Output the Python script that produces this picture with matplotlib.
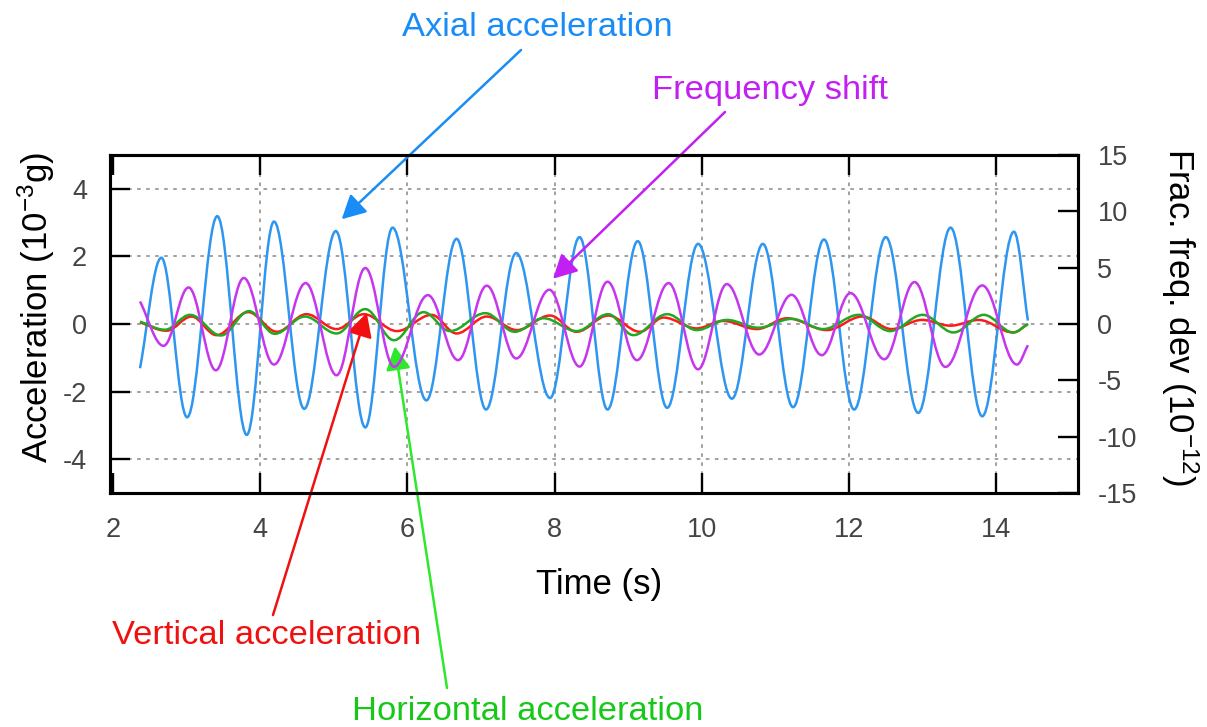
import matplotlib
matplotlib.use("Agg")
import matplotlib.pyplot as plt
from matplotlib.path import Path
from matplotlib.patches import PathPatch

# Extremum samples (time in s) of each recorded trace
axial_t = [2.37, 2.66, 3.01, 3.42, 3.82, 4.19, 4.60, 5.03, 5.43, 5.80, 6.26, 6.67, 7.07, 7.48,
           7.94, 8.34, 8.72, 9.13, 9.53, 9.95, 10.41, 10.83, 11.24, 11.66, 12.07, 12.50, 12.94,
           13.38, 13.81, 14.24, 14.43]
axial_v = [-1.31, 1.96, -2.76, 3.19, -3.28, 3.03, -2.51, 2.75, -3.06, 2.85, -2.26, 2.52, -2.53,
           2.10, -2.19, 2.57, -2.53, 2.45, -2.48, 2.37, -2.21, 2.37, -2.46, 2.50, -2.53, 2.57,
           -2.63, 2.85, -2.73, 2.73, 0.10]

freq_t = [2.37, 2.69, 3.03, 3.40, 3.78, 4.19, 4.62, 5.04, 5.43, 5.82, 6.28, 6.69, 7.08, 7.48,
          7.93, 8.34, 8.72, 9.12, 9.55, 9.95, 10.34, 10.78, 11.22, 11.63, 12.02, 12.48, 12.89,
          13.31, 13.81, 14.28, 14.43]
freq_v = [2.0, -1.94, 3.24, -4.11, 4.08, -3.60, 3.63, -4.55, 4.97, -3.80, 2.56, -3.21, 3.40,
          -3.06, 3.04, -3.78, 3.75, -3.21, 3.63, -4.02, 3.54, -2.71, 2.59, -2.77, 2.74, -3.13,
          3.72, -3.81, 3.42, -3.60, -1.88]

horiz_t = [2.37, 2.71, 3.05, 3.47, 3.85, 4.20, 4.61, 5.04, 5.43, 5.82, 6.22, 6.58, 7.06, 7.46,
           7.85, 8.30, 8.73, 9.07, 9.53, 9.93, 10.34, 10.77, 11.22, 11.65, 12.13, 12.56, 13.00,
           13.42, 13.83, 14.23, 14.43]
horiz_v = [0.07, -0.17, 0.27, -0.34, 0.38, -0.29, 0.22, -0.28, 0.44, -0.48, 0.35, -0.21, 0.32,
           -0.23, 0.17, -0.21, 0.29, -0.33, 0.29, -0.18, 0.12, -0.11, 0.15, -0.15, 0.27, -0.21,
           0.27, -0.25, 0.27, -0.25, 0.0]

vert_t = [2.37, 2.73, 3.07, 3.41, 3.84, 4.23, 4.63, 5.04, 5.41, 5.86, 6.33, 6.67, 7.08, 7.49,
          7.94, 8.30, 8.73, 9.16, 9.48, 9.93, 10.29, 10.75, 11.16, 11.70, 12.18, 12.58, 12.99,
          13.38, 13.76, 14.23, 14.43]
vert_v = [0.05, -0.20, 0.22, -0.33, 0.35, -0.23, 0.29, -0.15, 0.29, -0.21, 0.27, -0.28, 0.22,
          -0.18, 0.25, -0.23, 0.25, -0.23, 0.19, -0.13, 0.09, -0.15, 0.17, -0.18, 0.22, -0.15,
          0.12, -0.05, 0.12, -0.25, 0.0]

x_ticks = [2, 4, 6, 8, 10, 12, 14]
acc_ticks = [-4, -2, 0, 2, 4]
freq_ticks = [-15, -10, -5, 0, 5, 10, 15]

BLUE = "#2e96f0"
MAGENTA = "#c636ee"
RED = "#ff1a1a"
GREEN = "#22a822"

plt.rcParams["font.family"] = ["Liberation Sans", "DejaVu Sans"]
plt.rcParams["axes.unicode_minus"] = False
plt.rcParams["mathtext.fontset"] = "custom"
plt.rcParams["mathtext.rm"] = "Liberation Sans"
plt.rcParams["mathtext.it"] = "Liberation Sans:italic"


def wave_path(t, v):
    # smooth Bezier through the extrema: flat tangents at peaks/troughs
    k = 0.363
    pts = list(zip(t, v))
    verts = [pts[0]]
    codes = [Path.MOVETO]
    n = len(pts)
    for i in range(n - 1):
        (t0, v0), (t1, v1) = pts[i], pts[i + 1]
        dt = t1 - t0
        if i == 0:
            c1 = (t0 + dt / 3, v0 + (v1 - v0) / 3)
        else:
            c1 = (t0 + k * dt, v0)
        if i == n - 2:
            c2 = (t1 - dt / 3, v1 - (v1 - v0) / 3)
        else:
            c2 = (t1 - k * dt, v1)
        verts += [c1, c2, (t1, v1)]
        codes += [Path.CURVE4] * 3
    return Path(verts, codes)


def fpix(x, y):
    # image-style pixel position (origin top-left) -> figure fraction
    return x / 1207, 1 - y / 727


fig = plt.figure(figsize=(12.07, 7.27), dpi=100)
ax = fig.add_axes([0.0911, 0.3219, 0.8020, 0.4649])
ax2 = ax.twinx()

ax.set_xlim(1.962, 15.11)
ax.set_ylim(-5, 5)
ax2.set_ylim(-15, 15)

ax.set_xticks(x_ticks)
ax.set_yticks(acc_ticks)
ax2.set_yticks(freq_ticks)

ax.grid(True, color="#9a9a9a", linestyle=(0, (2, 3)), linewidth=1.3)
ax.set_axisbelow(True)
# the x=2 grid line sits on the left frame
ax.get_xgridlines()[0].set_visible(False)

for t, v, c in [(axial_t, axial_v, BLUE), (vert_t, vert_v, RED), (horiz_t, horiz_v, GREEN)]:
    ax.add_patch(PathPatch(wave_path(t, v), fill=False, edgecolor=c, linewidth=1.8, zorder=3))
ax2.add_patch(PathPatch(wave_path(freq_t, freq_v), fill=False, edgecolor=MAGENTA,
                        linewidth=1.8, zorder=3))

ax.tick_params(axis="both", direction="in", length=14.5, width=1.7, labelsize=19.5,
               labelcolor="#444444", top=True, right=False)
ax.tick_params(axis="x", pad=17)
ax.tick_params(axis="y", pad=16.5)
ax2.tick_params(axis="y", direction="in", length=14.5, width=1.7, labelsize=19.5,
                labelcolor="#444444", pad=14)
for a in (ax, ax2):
    for s in a.spines.values():
        s.set_linewidth(2.2)

ax.set_xlabel("Time (s)", fontsize=25, va="center")
ax.xaxis.set_label_coords(0.505, -0.272)
ax.set_ylabel("Acceleration (10$^{-3}$g)", fontsize=25, va="center", ha="center")
ax.yaxis.set_label_coords(-0.076, 0.55)
ax2.set_ylabel("Frac. freq. dev (10$^{-12}$)", fontsize=25, rotation=270,
               va="center", ha="center")
ax2.yaxis.set_label_coords(1.105, 0.52)

# callouts
labels = [
    ("Axial acceleration", (537, 27), "#1a8cf5", (521, 50), ax, (5.11, 3.10)),
    ("Frequency shift", (770, 90), "#c21ff2", (725, 112), ax, (7.98, 1.34)),
    ("Vertical acceleration", (267, 635), "#f01010", (273, 615), ax, (5.45, 0.33)),
    ("Horizontal acceleration", (528, 711), "#18c818", (447, 688), ax, (5.83, -0.66)),
]
arrow_cols = {"Horizontal acceleration": "#2ee82e"}
for text, (px, py), col, (sx, sy), a, target in labels:
    fig.text(*fpix(px, py), text, color=col, fontsize=24.8, ha="center", va="center")
    ac = arrow_cols.get(text, col)
    a.annotate("", xy=target, xycoords="data", xytext=fpix(sx, sy),
               textcoords="figure fraction", annotation_clip=False,
               arrowprops=dict(arrowstyle="-|>,head_length=0.72,head_width=0.38",
                               mutation_scale=20, color=ac, lw=1.8,
                               shrinkA=0, shrinkB=0))

fig.savefig("out.png", dpi=100)
